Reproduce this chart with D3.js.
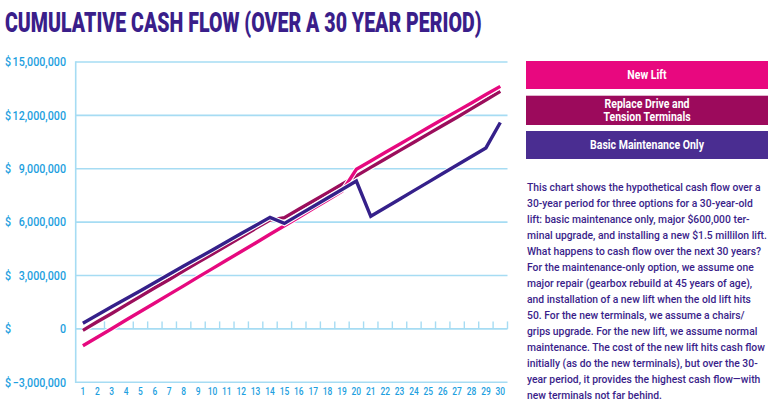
<!DOCTYPE html>
<html>
<head>
<meta charset="utf-8">
<script src="https://cdn.jsdelivr.net/npm/d3@7"></script>
<style>
  html, body { margin: 0; padding: 0; background: #ffffff; }
  svg { display: block; }
</style>
</head>
<body>
<svg id="chart" width="770" height="408"></svg>
<script>
// ---------- data ----------
const years = d3.range(1, 31);
const yTicks = [-3000000, 0, 3000000, 6000000, 9000000, 12000000, 15000000];

const newLift = [-0.95, -0.47, 0.01, 0.50, 0.98, 1.46, 1.94, 2.42, 2.91, 3.39,
                  3.87, 4.35, 4.83, 5.32, 5.80, 6.28, 6.76, 7.24, 7.73, 8.97,
                  9.44, 9.91, 10.38, 10.85, 11.32, 11.78, 12.24, 12.70, 13.17, 13.63].map(v => v * 1e6);
const replaceDrive = [-0.08, 0.40, 0.87, 1.35, 1.83, 2.31, 2.78, 3.26, 3.74, 4.21,
                       4.69, 5.17, 5.65, 6.12, 6.25, 6.72, 7.19, 7.66, 8.13, 8.60,
                       9.08, 9.55, 10.02, 10.49, 10.96, 11.43, 11.90, 12.38, 12.86, 13.35].map(v => v * 1e6);
const basicMaint = [0.32, 0.78, 1.24, 1.69, 2.15, 2.61, 3.07, 3.53, 3.98, 4.44,
                     4.90, 5.36, 5.81, 6.27, 5.93, 6.41, 6.88, 7.36, 7.83, 8.31,
                     6.33, 6.81, 7.29, 7.77, 8.25, 8.73, 9.21, 9.69, 10.17, 11.6].map(v => v * 1e6);

const seriesNames = ["New Lift", "Replace Drive and\nTension Terminals", "Basic Maintenance Only"];
const seriesColors = ["#e6097f", "#9b0e5c", "#35208a"];
const legendColors = ["#e8087f", "#9c0a5c", "#4a2d91"];

const titleText = "CUMULATIVE CASH FLOW (OVER A 30 YEAR PERIOD)";
const noteLines = [
  "This chart shows the hypothetical cash flow over a",
  "30-year period for three options for a 30-year-old",
  "lift: basic maintenance only, major $600,000 ter-",
  "minal upgrade, and installing a new $1.5 millilon lift.",
  "What happens to cash flow over the next 30 years?",
  "For the maintenance-only option, we assume one",
  "major repair (gearbox rebuild at 45 years of age),",
  "and installation of a new lift when the old lift hits",
  "50. For the new terminals, we assume a chairs/",
  "grips upgrade. For the new lift, we assume normal",
  "maintenance. The cost of the new lift hits cash flow",
  "initially (as do the new terminals), but over the 30-",
  "year period, it provides the highest cash flow\u2014with",
  "new terminals not far behind."
];

// ---------- layout ----------
const svg = d3.select("#chart");
const purple = "#3a1e8a";
const axisBlue = "#1e9fe0";
const gridBlue = "#a6dcf3";
const face = "Roboto, 'Liberation Sans', sans-serif";

// measure natural width of a string in a given style
function measure(str, size, weight) {
  const t = svg.append("text").attr("font-family", face).attr("font-size", size)
    .attr("font-weight", weight).text(str);
  const w = t.node().getComputedTextLength();
  t.remove();
  return w;
}

const x = d3.scaleBand().domain(years).range([75.7, 507.5]).paddingInner(0).paddingOuter(0);
const xc = d => x(d) + x.bandwidth() / 2;
const y = d3.scaleLinear().domain([-3000000, 15000000]).range([382.3, 62]);

// title
const titleSize = 27.5;
const titleScale = 477 / measure(titleText, titleSize, 900);
svg.append("text")
  .attr("transform", `translate(5,32.3) scale(${titleScale},1)`)
  .attr("font-family", face).attr("font-weight", 900).attr("font-size", titleSize)
  .attr("fill", purple)
  .text(titleText);

// grid lines
svg.append("g").selectAll("line").data(yTicks).join("line")
  .attr("x1", x.range()[0]).attr("x2", x.range()[1])
  .attr("y1", d => y(d)).attr("y2", d => y(d))
  .attr("stroke", gridBlue).attr("stroke-width", 1.6);

// left axis line
svg.append("line")
  .attr("x1", x.range()[0]).attr("x2", x.range()[0])
  .attr("y1", y(15000000) - 0.8).attr("y2", y(-3000000) + 0.8)
  .attr("stroke", gridBlue).attr("stroke-width", 1.6);

// zero-line ticks (band boundaries)
const tickYears = years.filter(d => d >= 2);
svg.append("g").selectAll("line").data(tickYears).join("line")
  .attr("x1", d => x(d) + x.bandwidth()).attr("x2", d => x(d) + x.bandwidth())
  .attr("y1", y(0)).attr("y2", y(0) - 7.5)
  .attr("stroke", gridBlue).attr("stroke-width", 1.4);

// y labels
const ySize = 12;
const yScaleX = 53.5 / measure("15,000,000", ySize, 500);
const yl = svg.append("g").attr("font-family", face).attr("font-size", ySize)
  .attr("font-weight", 500).attr("fill", axisBlue);
yl.selectAll("text.d").data(yTicks).join("text").attr("class", "d")
  .attr("transform", d => `translate(5,${y(d) + 4.3}) scale(${yScaleX},1)`)
  .text("$");
yl.selectAll("text.v").data(yTicks).join("text").attr("class", "v")
  .attr("transform", d => `translate(66,${y(d) + 4.3}) scale(${yScaleX},1)`)
  .attr("text-anchor", "end")
  .text(d => d3.format(",")(d));

// x labels
const xSize = 10.5;
const xScaleX = 0.8;
svg.append("g").attr("font-family", face).attr("font-size", xSize).attr("font-weight", 500)
  .attr("fill", axisBlue)
  .selectAll("text").data(years).join("text")
  .attr("transform", d => `translate(${xc(d)},395.3) scale(${xScaleX},1)`)
  .attr("text-anchor", "middle")
  .text(d => d);

// lines
const allSeries = [replaceDrive, newLift, basicMaint];
const allColors = [seriesColors[1], seriesColors[0], seriesColors[2]];
const line = d3.line().x((d, i) => xc(years[i])).y(d => y(d));
const lg = svg.append("g");
allSeries.forEach((s, k) => {
  lg.append("path").datum(s).attr("d", line)
    .attr("fill", "none").attr("stroke", "#ffffff").attr("stroke-width", 5.5)
    .attr("stroke-linejoin", "miter");
  lg.append("path").datum(s).attr("d", line)
    .attr("fill", "none").attr("stroke", allColors[k]).attr("stroke-width", 3.4)
    .attr("stroke-linejoin", "miter");
});

// legend
const legendBoxes = [
  {y0: 61, y1: 89}, {y0: 95.7, y1: 125}, {y0: 131, y1: 159}
];
const lSize = 12;
const lScaleX = 114 / measure("Basic Maintenance Only", lSize, 700);
const lgd = svg.append("g");
seriesNames.forEach((name, i) => {
  const b = legendBoxes[i];
  lgd.append("rect").attr("x", 526).attr("y", b.y0).attr("width", 242).attr("height", b.y1 - b.y0)
    .attr("fill", legendColors[i]);
  const lines = name.split("\n");
  const cy = (b.y0 + b.y1) / 2;
  lines.forEach((t, j) => {
    lgd.append("text")
      .attr("transform", `translate(647,${cy + 4.2 + (j - (lines.length - 1) / 2) * 13.4}) scale(${lScaleX},1)`)
      .attr("text-anchor", "middle")
      .attr("font-family", face).attr("font-weight", 700).attr("font-size", lSize)
      .attr("fill", "#ffffff").text(t);
  });
});

// note paragraph
const nSize = 11.6;
const nScaleX = 240 / measure(noteLines[3], nSize, 500);
const ng = svg.append("g").attr("font-family", face).attr("font-size", nSize)
  .attr("font-weight", 500).attr("fill", purple);
ng.selectAll("text").data(noteLines).join("text")
  .attr("transform", (d, i) => `translate(527,${190.8 + i * 16}) scale(${nScaleX},1)`)
  .text(d => d);
</script>
</body>
</html>
